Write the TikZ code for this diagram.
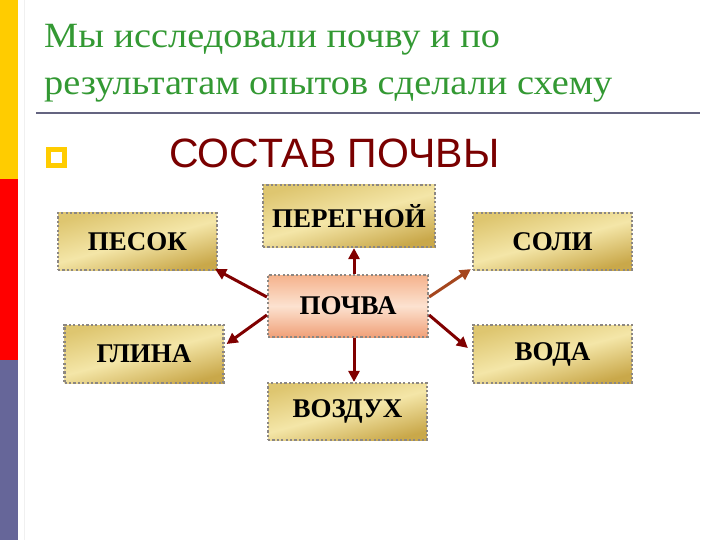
\documentclass[tikz,border=0pt]{standalone}
\usepackage{fontspec}
\setmainfont{Liberation Serif}
\newfontfamily\sansf{Liberation Sans}
\newfontfamily\titlef[FakeStretch=1.08]{Liberation Serif}
\usetikzlibrary{arrows.meta,calc}
\definecolor{barY}{RGB}{255,204,0}
\definecolor{barR}{RGB}{255,0,0}
\definecolor{barP}{RGB}{102,102,153}
\definecolor{titleG}{RGB}{51,153,51}
\definecolor{ruleC}{RGB}{100,100,128}
\definecolor{headR}{RGB}{122,0,0}
\definecolor{goldA}{RGB}{222,198,112}
\definecolor{goldB}{RGB}{201,168,74}
\definecolor{goldC}{RGB}{244,230,168}
\definecolor{peachA}{RGB}{245,178,140}
\definecolor{peachB}{RGB}{240,160,120}
\definecolor{peachC}{RGB}{252,226,208}
\definecolor{arrR}{RGB}{128,0,0}
\definecolor{arrB}{RGB}{165,70,30}
\definecolor{edgeG}{RGB}{140,135,130}
\tikzset{
  goldbox/.style={minimum width=159pt,minimum height=57pt,inner sep=0pt,
    top color=goldA,bottom color=goldB,middle color=goldC,shading angle=15,
    draw=edgeG,line width=2.2pt,dash pattern=on 2.2pt off 2.2pt,
    font=\fontsize{27}{27}\selectfont\bfseries},
  pinkbox/.style={goldbox,top color=peachA,bottom color=peachB,middle color=peachC,
    minimum width=160pt,minimum height=62pt},
  arr/.style={draw=arrR,line width=3pt,-{Triangle[length=11pt,width=11pt]}},
  arrbr/.style={arr,draw=arrB}
}
\begin{document}
\begin{tikzpicture}[x=1pt,y=-1pt]
\useasboundingbox (0,0) rectangle (720,540);
\fill[white] (0,0) rectangle (720,540);
% left bar
\fill[barY] (0,0) rectangle (18,179);
\fill[barR] (0,179) rectangle (18,360);
\fill[barP] (0,360) rectangle (18,540);
\draw[black!6,line width=1pt] (24,0) -- (24,540);
% title
\node[anchor=base west,inner sep=0pt,text=titleG,font=\titlef\fontsize{35.5}{35.5}\selectfont] (t1) at (44,48) {Мы исследовали почву и по};
\node[anchor=base west,inner sep=0pt,text=titleG,font=\titlef\fontsize{35.5}{35.5}\selectfont] (t2) at (44,95) {результатам опытов сделали схему};
\draw[ruleC,line width=2pt] (36,113) -- (700,113);
% bullet
\node[draw=barY,line width=5pt,fill=white,minimum size=16pt,inner sep=0pt] (bul) at (56,157.5) {};
\node[anchor=base west,inner sep=0pt,text=headR,font=\sansf\fontsize{41}{41}\selectfont] (head) at (169,168) {СОСТАВ ПОЧВЫ};
% boxes
\node[goldbox] (pesok) at (137.5,241.5) {ПЕСОК};
\node[goldbox,minimum width=172pt,minimum height=62pt] (peregnoy) at (349,216) {ПЕРЕГНОЙ};
\node[goldbox] (soli) at (552.5,241.5) {СОЛИ};
\node[pinkbox] (pochva) at (348,306) {ПОЧВА};
\node[goldbox,minimum height=58pt] (glina) at (144,354) {ГЛИНА};
\node[goldbox,minimum height=58pt] (voda) at (552.5,354) {ВОДА};
\node[goldbox] (vozduh) at (347.5,411.5) {ВОЗДУХ};
% arrows
\draw[arr] ([yshift=9pt]pochva.west) -- ([xshift=-3pt,yshift=2pt]pesok.south east);
\draw[arr] ([yshift=-9pt]pochva.west) -- ([xshift=2pt,yshift=10pt]glina.east);
\draw[arr] ([xshift=6pt]pochva.north) -- ([xshift=5pt]peregnoy.south);
\draw[arr] ([xshift=6pt]pochva.south) -- ([xshift=6.5pt]vozduh.north);
\draw[arrbr] ([yshift=9pt]pochva.east) -- ([xshift=-1pt,yshift=2pt]soli.south west);
\draw[arr] ([yshift=-9pt]pochva.east) -- ([xshift=-4pt,yshift=6pt]voda.west);
\end{tikzpicture}
\end{document}
